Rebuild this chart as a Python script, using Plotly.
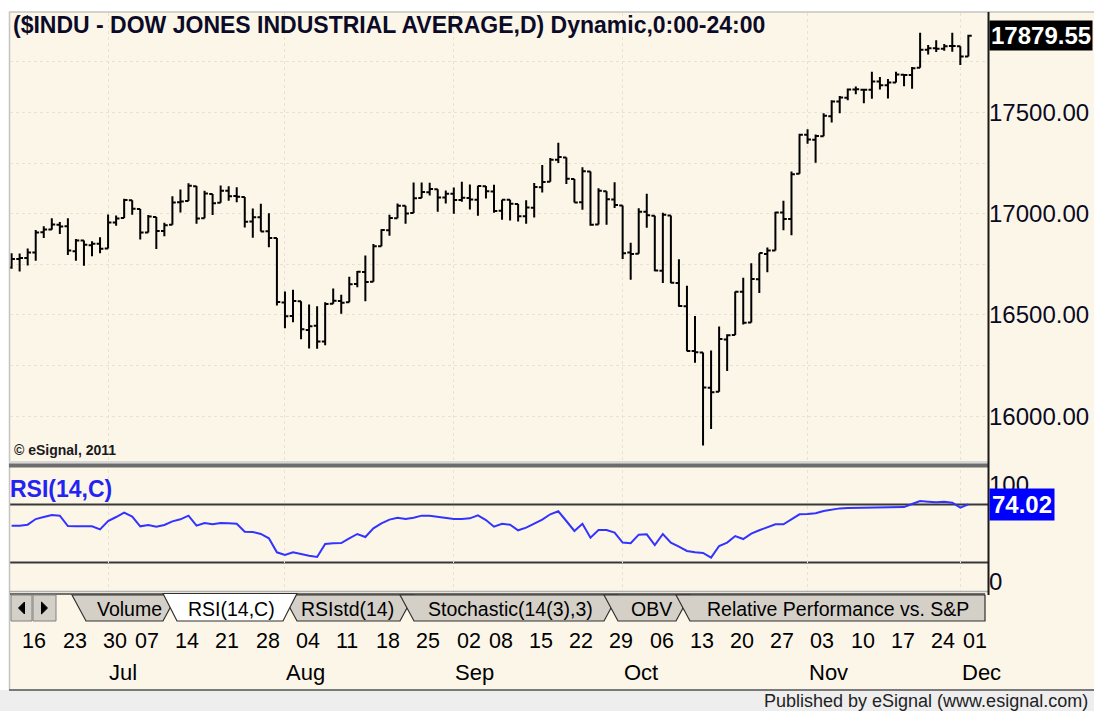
import plotly.graph_objects as go
import datetime as dt

# ---------------- data ----------------
dates = [
    "2014-06-13", "2014-06-16", "2014-06-17", "2014-06-18", "2014-06-19", "2014-06-20",
    "2014-06-23", "2014-06-24", "2014-06-25", "2014-06-26", "2014-06-27", "2014-06-30",
    "2014-07-01", "2014-07-02", "2014-07-03", "2014-07-07", "2014-07-08", "2014-07-09",
    "2014-07-10", "2014-07-11", "2014-07-14", "2014-07-15", "2014-07-16", "2014-07-17",
    "2014-07-18", "2014-07-21", "2014-07-22", "2014-07-23", "2014-07-24", "2014-07-25",
    "2014-07-28", "2014-07-29", "2014-07-30", "2014-07-31", "2014-08-01", "2014-08-04",
    "2014-08-05", "2014-08-06", "2014-08-07", "2014-08-08", "2014-08-11", "2014-08-12",
    "2014-08-13", "2014-08-14", "2014-08-15", "2014-08-18", "2014-08-19", "2014-08-20",
    "2014-08-21", "2014-08-22", "2014-08-25", "2014-08-26", "2014-08-27", "2014-08-28",
    "2014-08-29", "2014-09-02", "2014-09-03", "2014-09-04", "2014-09-05", "2014-09-08",
    "2014-09-09", "2014-09-10", "2014-09-11", "2014-09-12", "2014-09-15", "2014-09-16",
    "2014-09-17", "2014-09-18", "2014-09-19", "2014-09-22", "2014-09-23", "2014-09-24",
    "2014-09-25", "2014-09-26", "2014-09-29", "2014-09-30", "2014-10-01", "2014-10-02",
    "2014-10-03", "2014-10-06", "2014-10-07", "2014-10-08", "2014-10-09", "2014-10-10",
    "2014-10-13", "2014-10-14", "2014-10-15", "2014-10-16", "2014-10-17", "2014-10-20",
    "2014-10-21", "2014-10-22", "2014-10-23", "2014-10-24", "2014-10-27", "2014-10-28",
    "2014-10-29", "2014-10-30", "2014-10-31", "2014-11-03", "2014-11-04", "2014-11-05",
    "2014-11-06", "2014-11-07", "2014-11-10", "2014-11-11", "2014-11-12", "2014-11-13",
    "2014-11-14", "2014-11-17", "2014-11-18", "2014-11-19", "2014-11-20", "2014-11-21",
    "2014-11-24", "2014-11-25", "2014-11-26", "2014-11-28", "2014-12-01", "2014-12-02",
]

opens = [
    16734, 16776, 16781, 16808, 16908, 16922, 16946, 16938, 16815, 16867, 16844, 16852,
    16828, 16957, 16979, 17066, 17023, 16907, 16984, 16915, 16945, 17056, 17063, 17136,
    16978, 17097, 17054, 17113, 17087, 17082, 16962, 16983, 16913, 16880, 16561, 16494,
    16568, 16425, 16446, 16368, 16555, 16569, 16562, 16653, 16712, 16664, 16839, 16918,
    16977, 17039, 17004, 17077, 17106, 17121, 17080, 17098, 17068, 17078, 17069, 17136,
    17110, 17014, 17069, 17048, 16988, 17030, 17131, 17158, 17266, 17278, 17171, 17056,
    17208, 16947, 17111, 17070, 17041, 16808, 16802, 17010, 16990, 16718, 16991, 16658,
    16543, 16322, 16314, 16140, 16120, 16379, 16401, 16614, 16463, 16676, 16801, 16818,
    17006, 16974, 17197, 17390, 17365, 17383, 17482, 17554, 17573, 17614, 17613, 17612,
    17653, 17635, 17648, 17687, 17685, 17721, 17810, 17818, 17815, 17828, 17827, 17777,
]
highs = [
    16804, 16803, 16828, 16919, 16938, 16978, 16959, 16977, 16875, 16868, 16864, 16884,
    16996, 16991, 17074, 17066, 17023, 16993, 16984, 16955, 17086, 17120, 17151, 17137,
    17113, 17097, 17139, 17136, 17131, 17082, 17026, 17049, 17002, 16880, 16615, 16624,
    16568, 16551, 16543, 16562, 16631, 16600, 16688, 16717, 16794, 16850, 16923, 16995,
    17050, 17039, 17154, 17154, 17153, 17121, 17115, 17130, 17158, 17144, 17138, 17137,
    17143, 17069, 17069, 17048, 17067, 17152, 17241, 17275, 17350, 17278, 17171, 17230,
    17208, 17126, 17111, 17155, 17041, 16857, 17027, 17099, 16990, 17005, 16991, 16775,
    16644, 16495, 16314, 16324, 16443, 16405, 16615, 16683, 16755, 16805, 16833, 17010,
    17064, 17209, 17395, 17417, 17391, 17496, 17561, 17582, 17618, 17628, 17613, 17701,
    17676, 17665, 17701, 17687, 17725, 17894, 17833, 17857, 17838, 17894, 17827, 17884,
]
lows = [
    16728, 16714, 16744, 16768, 16880, 16921, 16900, 16796, 16767, 16743, 16790, 16804,
    16828, 16940, 16979, 16995, 16872, 16907, 16825, 16888, 16945, 17006, 17063, 16950,
    16978, 16994, 17054, 17064, 17056, 16932, 16881, 16912, 16834, 16547, 16434, 16464,
    16380, 16334, 16333, 16350, 16555, 16506, 16562, 16637, 16568, 16664, 16839, 16891,
    16977, 16950, 17004, 17077, 17090, 17010, 17051, 17000, 17059, 17021, 16990, 17075,
    17005, 16970, 16966, 16961, 16950, 16981, 17105, 17158, 17250, 17147, 17055, 17019,
    16941, 16947, 16945, 17028, 16776, 16674, 16802, 16930, 16716, 16658, 16656, 16540,
    16321, 16263, 15855, 15936, 16120, 16223, 16401, 16453, 16463, 16608, 16711, 16818,
    16918, 16893, 17197, 17345, 17252, 17383, 17450, 17496, 17560, 17590, 17546, 17568,
    17614, 17569, 17648, 17630, 17617, 17721, 17787, 17799, 17805, 17800, 17735, 17777,
]
closes = [
    16775.74, 16781.01, 16808.49, 16906.62, 16921.46, 16947.08, 16937.26, 16818.13,
    16867.51, 16846.13, 16851.84, 16826.60, 16956.07, 16976.24, 17068.26, 17024.21,
    16906.62, 16985.61, 16915.07, 16943.10, 17055.42, 17060.68, 17138.20, 16976.81,
    17100.18, 17051.73, 17113.54, 17086.63, 17083.80, 16960.57, 16982.59, 16912.11,
    16880.36, 16563.30, 16493.37, 16569.28, 16429.47, 16443.34, 16368.27, 16553.93,
    16569.98, 16560.54, 16651.80, 16713.58, 16662.91, 16838.74, 16919.59, 16979.13,
    17039.49, 17001.22, 17076.87, 17106.70, 17122.01, 17079.57, 17098.45, 17067.56,
    17078.28, 17069.58, 17137.36, 17111.42, 17013.87, 17068.71, 17049.00, 16987.51,
    17031.14, 17131.97, 17156.85, 17265.99, 17279.74, 17172.68, 17055.87, 17210.06,
    16945.80, 17113.15, 17071.22, 17042.90, 16804.71, 16801.05, 17009.69, 16991.91,
    16719.39, 16994.22, 16659.25, 16544.10, 16321.07, 16315.19, 16141.74, 16117.24,
    16380.41, 16399.67, 16614.81, 16461.32, 16677.90, 16805.41, 16817.94, 17005.75,
    16974.31, 17195.42, 17390.52, 17366.24, 17383.84, 17484.53, 17554.47, 17573.93,
    17613.74, 17614.90, 17612.20, 17652.79, 17634.74, 17647.75, 17687.82, 17685.73,
    17719.00, 17810.06, 17817.90, 17814.94, 17827.75, 17828.24, 17776.80, 17879.55,
]
rsi = [
    58.1, 58.1, 59.1, 64.9, 67.0, 69.1, 68.4, 57.7, 57.4, 57.4,
    57.4, 54.3, 62.9, 67.0, 71.5, 67.4, 57.4, 58.8, 57.0, 58.8,
    62.5, 64.6, 68.4, 58.1, 60.8, 59.5, 60.8, 60.5, 60.1, 51.9,
    51.5, 49.5, 45.0, 30.6, 27.8, 30.6, 28.5, 27.1, 25.8, 39.2,
    39.9, 40.2, 45.0, 49.5, 46.4, 55.3, 60.5, 64.3, 66.3, 64.9,
    66.3, 68.4, 68.4, 67.0, 66.3, 64.9, 64.9, 65.6, 68.7, 63.9,
    57.0, 60.1, 59.1, 53.3, 56.0, 60.5, 64.3, 69.8, 72.9, 62.9,
    52.6, 60.1, 45.7, 53.6, 53.6, 50.9, 40.6, 39.9, 48.8, 49.1,
    38.1, 49.5, 40.6, 36.4, 32.0, 30.6, 29.9, 25.1, 37.1, 40.6,
    47.4, 44.3, 49.8, 53.3, 56.7, 59.5, 59.5, 65.0, 69.8, 70.1,
    70.8, 73.2, 74.9, 75.9, 76.4, 76.6, 76.5, 76.8, 76.7, 76.9,
    77.0, 77.2, 80.4, 83.5, 82.8, 82.1, 82.8, 81.8, 76.6, 80.1,
]
price_ticks = [16000, 16500, 17000, 17500]
rsi_ticks = [0, 100]
rsi_bands = [80, 20]
last_price_text = "17879.55"
last_rsi_text = "74.02"
title_text = "($INDU - DOW JONES INDUSTRIAL AVERAGE,D) Dynamic,0:00-24:00"
tab_names = ["Volume", "RSI(14,C)", "RSIstd(14)", "Stochastic(14(3),3)", "OBV",
             "Relative Performance vs. S&P"]
active_tab = 1

# ---------------- geometry helpers ----------------
W, H = 1094, 711
CREAM = "#FCF6E9"
GRID = "#E9E2D3"
FONT = "Liberation Sans, Arial, sans-serif"


def fx(p):
    return p / W


def fy(p):
    return 1 - p / H


idx = list(range(len(dates)))
dts = [dt.date.fromisoformat(d) for d in dates]

# plot area in pixels
PL, PR = 10, 988
PRICE_TOP, PRICE_BOT = 13, 462
RSI_TOP, RSI_BOT = 470, 592
# first bar pixel & bar spacing (layout calibration)
X0PIX, STEP = 11.6, 8.04
x_range = [(PL - X0PIX) / STEP, (PR - X0PIX) / STEP]
# price scale calibration: 17500 at y=112.5, 0.2024 px per point
p_range = [17500 - (PRICE_BOT - 112.5) / 0.2024, 17500 + (112.5 - PRICE_TOP) / 0.2024]
# RSI scale: 100 at y=485, 0.97 px per unit
r_range = [100 - (RSI_BOT - 485) / 0.97, 100 + (485 - RSI_TOP) / 0.97]

# week / month first trading days
week_first, month_first = [], []
for i, d in enumerate(dts):
    if i == 0:
        continue
    if d.isocalendar()[1] != dts[i - 1].isocalendar()[1]:
        week_first.append(i)
    if d.month != dts[i - 1].month:
        month_first.append(i)

fig = go.Figure()
fig.add_trace(go.Ohlc(
    x=idx, open=opens, high=highs, low=lows, close=closes,
    increasing=dict(line=dict(color="#000000", width=2)),
    decreasing=dict(line=dict(color="#000000", width=2)),
    tickwidth=0.42, xaxis="x", yaxis="y", hoverinfo="skip", showlegend=False,
))
fig.add_trace(go.Scatter(
    x=idx, y=rsi, mode="lines", line=dict(color="#3333FF", width=2),
    xaxis="x2", yaxis="y2", hoverinfo="skip", showlegend=False,
))

grid = dict(showgrid=True, gridcolor=GRID, griddash="dot", gridwidth=1)
fig.update_layout(
    width=W, height=H, margin=dict(l=0, r=0, t=0, b=0, pad=0),
    paper_bgcolor=CREAM, plot_bgcolor=CREAM, showlegend=False,
    xaxis=dict(domain=[fx(PL), fx(PR)], range=x_range, anchor="y",
               tickvals=month_first, showticklabels=False, ticks="",
               zeroline=False, showline=False, automargin=False,
               rangeslider=dict(visible=False), **grid),
    xaxis2=dict(domain=[fx(PL), fx(PR)], range=x_range, anchor="y2", matches="x",
                tickvals=month_first, showticklabels=False, ticks="",
                zeroline=False, showline=False, automargin=False, **grid),
    yaxis=dict(domain=[fy(PRICE_BOT), fy(PRICE_TOP)], range=p_range, anchor="x",
               side="right", tickvals=price_ticks, tickformat=".2f", ticks="",
               tickfont=dict(family=FONT, size=24, color="#0A0A1E"),
               zeroline=False, showline=False, automargin=False,
               minor=dict(dtick=250, tick0=0, showgrid=True, gridcolor=GRID,
                          griddash="dot"),
               **grid),
    yaxis2=dict(domain=[fy(RSI_BOT), fy(RSI_TOP)], range=r_range, anchor="x2",
                side="right", tickvals=rsi_ticks, ticks="",
                tickfont=dict(family=FONT, size=24, color="#0A0A1E"),
                showgrid=False, zeroline=False, showline=False, automargin=False),
)

shapes = []
ann = []

# RSI bands
for b in rsi_bands:
    shapes.append(dict(type="line", xref="x2 domain", yref="y2", x0=0, x1=1, y0=b, y1=b,
                       line=dict(color="#383838", width=2), layer="below"))

# frame decorations
shapes += [
    dict(type="rect", xref="paper", yref="paper", x0=0, x1=1, y0=fy(11.5), y1=1,
         fillcolor="#FFFFFF", line=dict(width=0)),
    dict(type="rect", xref="paper", yref="paper", x0=0, x1=fx(9), y0=fy(690), y1=fy(11.5),
         fillcolor="#FFFFFF", line=dict(width=0)),
    dict(type="line", xref="paper", yref="paper", x0=fx(9), x1=1, y0=fy(12), y1=fy(12),
         line=dict(color="#C4C4C4", width=1.5)),
    dict(type="line", xref="paper", yref="paper", x0=fx(9.5), x1=fx(9.5), y0=fy(690), y1=fy(12),
         line=dict(color="#C4C4C4", width=1.5)),
    # splitter between panels
    dict(type="rect", xref="paper", yref="paper", x0=fx(9), x1=fx(PR), y0=fy(463.5), y1=fy(461),
         fillcolor="#D6D6D6", line=dict(width=0)),
    dict(type="rect", xref="paper", yref="paper", x0=fx(9), x1=fx(PR), y0=fy(467.5), y1=fy(463.5),
         fillcolor="#6C6C6C", line=dict(width=0)),
    # RSI bottom
    dict(type="line", xref="paper", yref="paper", x0=fx(9), x1=fx(PR), y0=fy(591.5), y1=fy(591.5),
         line=dict(color="#B0B0B0", width=1.5)),
    # right axis line
    dict(type="line", xref="paper", yref="paper", x0=fx(PR + 0.5), x1=fx(PR + 0.5), y0=fy(595), y1=fy(12),
         line=dict(color="#1A1A1A", width=2)),
    # bottom status bar
    dict(type="rect", xref="paper", yref="paper", x0=0, x1=1, y0=0, y1=fy(690),
         fillcolor="#EEEEEE", line=dict(width=0)),
    dict(type="line", xref="paper", yref="paper", x0=fx(9), x1=1, y0=fy(690), y1=fy(690),
         line=dict(color="#7A7A7A", width=2)),
]

# tab strip
T_TOP, T_BOT = 595, 621
shapes.append(dict(type="line", xref="paper", yref="paper", x0=fx(10), x1=fx(985), y0=fy(594), y1=fy(594),
                   line=dict(color="#404040", width=1.5)))
for bx0, bx1, d in [(11, 32, -1), (33, 56, 1)]:
    shapes.append(dict(type="rect", xref="paper", yref="paper", x0=fx(bx0), x1=fx(bx1),
                       y0=fy(T_BOT), y1=fy(T_TOP), fillcolor="#D4D0C8",
                       line=dict(color="#808080", width=1)))
    cx, cy = (bx0 + bx1) / 2, (T_TOP + T_BOT) / 2
    if d < 0:
        pts = [(cx + 3, cy - 6), (cx - 3, cy), (cx + 3, cy + 6)]
    else:
        pts = [(cx - 3, cy - 6), (cx + 3, cy), (cx - 3, cy + 6)]
    path = "M " + " L ".join(f"{fx(a):.5f},{fy(b):.5f}" for a, b in pts) + " Z"
    shapes.append(dict(type="path", xref="paper", yref="paper", path=path,
                       fillcolor="#000000", line=dict(color="#000000", width=1)))

tab_edges = [(72, 177), (163, 297), (283, 414), (400, 618), (604, 690), (676, 985)]
tab_centers = [129, 232, 347, 510, 651, 838]
order = [i for i in range(len(tab_names)) if i != active_tab] + [active_tab]
for i in order:
    a, b = tab_edges[i]
    last = i == len(tab_names) - 1
    br = b if last else b - 14
    top = T_TOP - 1.5 if i == active_tab else T_TOP
    pts = [(a, top), (a + 14, T_BOT), (br, T_BOT), (b, top)]
    path = "M " + " L ".join(f"{fx(p):.5f},{fy(q):.5f}" for p, q in pts) + " Z"
    shapes.append(dict(type="path", xref="paper", yref="paper", path=path,
                       fillcolor="#FFFFFF" if i == active_tab else "#D4D0C8",
                       line=dict(color="#303030", width=1.2)))
for i, name in enumerate(tab_names):
    ann.append(dict(xref="paper", yref="paper", x=fx(tab_centers[i]), y=fy(609),
                    text=name, showarrow=False, xanchor="center", yanchor="middle",
                    font=dict(family=FONT, size=19.5, color="#000000")))

# title & texts
ann.append(dict(xref="paper", yref="paper", x=fx(11), y=fy(25), text=title_text,
                showarrow=False, xanchor="left", yanchor="middle",
                font=dict(family=FONT, size=23, color="#0B0B28", weight="bold")))
ann.append(dict(xref="paper", yref="paper", x=fx(12), y=fy(450), text="© eSignal, 2011",
                showarrow=False, xanchor="left", yanchor="middle",
                font=dict(family=FONT, size=14, color="#1A1A1A", weight="bold")))
ann.append(dict(xref="paper", yref="paper", x=fx(8), y=fy(489), text="RSI(14,C)",
                showarrow=False, xanchor="left", yanchor="middle",
                font=dict(family=FONT, size=23, color="#2424F2", weight="bold")))
ann.append(dict(xref="paper", yref="y", x=fx(PR + 0.5), y=closes[-1], text=last_price_text,
                showarrow=False, xanchor="left", yanchor="middle", bgcolor="#000000",
                borderpad=1, font=dict(family=FONT, size=24, color="#FFFFFF", weight="bold")))
ann.append(dict(xref="paper", yref="y2", x=fx(PR + 0.5), y=rsi[-1], text=last_rsi_text,
                showarrow=False, xanchor="left", yanchor="middle", bgcolor="#0000FF",
                borderpad=2, font=dict(family=FONT, size=24, color="#FFFFFF", weight="bold")))
ann.append(dict(xref="paper", yref="paper", x=fx(1090), y=fy(700.5),
                text="Published by eSignal (www.esignal.com)", showarrow=False,
                xanchor="right", yanchor="middle",
                font=dict(family=FONT, size=18, color="#222222")))

# date labels
for i in week_first:
    ann.append(dict(xref="x", yref="paper", x=i + 0.1, y=fy(641),
                    text=f"{dts[i].day:02d}", showarrow=False, xanchor="left", yanchor="middle",
                    font=dict(family=FONT, size=21.5, color="#000000")))
for i in month_first:
    ann.append(dict(xref="x", yref="paper", x=i - 0.1, y=fy(672),
                    text=dts[i].strftime("%b"), showarrow=False, xanchor="left", yanchor="middle",
                    font=dict(family=FONT, size=22, color="#000000")))

fig.update_layout(shapes=shapes, annotations=ann)
fig.write_html(
    "out.html",
    config={"displayModeBar": False, "staticPlot": True},
    post_script="document.documentElement.style.margin='0';document.body.style.margin='0';"
                "document.body.style.overflow='hidden';document.documentElement.style.overflow='hidden';",
)
